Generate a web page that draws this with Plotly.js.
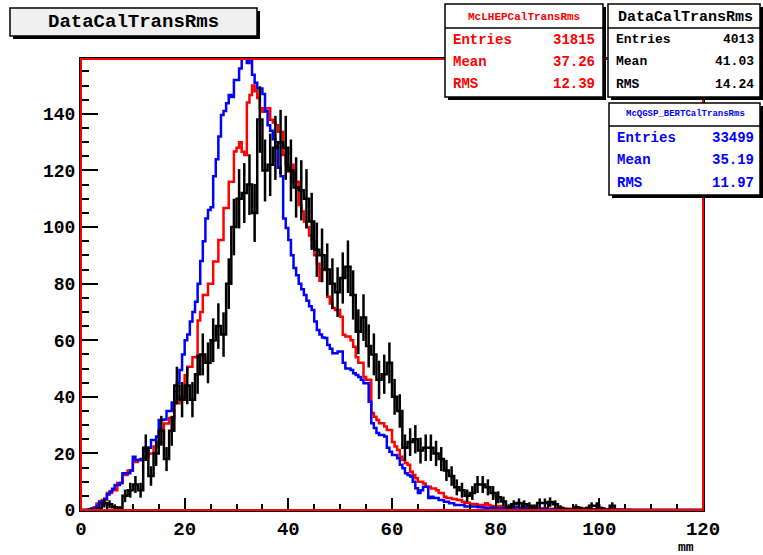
<!DOCTYPE html>
<html><head><meta charset="utf-8">
<script src="https://cdn.plot.ly/plotly-3.0.1.min.js"></script>
<style>body{margin:0;background:#fff}#c{width:763px;height:555px}</style></head>
<body><div id="c"></div><script>
// McQGSP_BERT (blue), 0.5 mm bins from 0 to 120
const blueVals=[0,0,0,0.3,0.5,0.6,1.5,3,3,4,5.5,6.5,7.5,8.8,8.8,9.5,13,13,13,14,
18.8,17.7,17.7,18,21,21,22,24.7,24.7,26,31.8,31.8,32,35,35,38,42,45,49.5,55,
60,62,66.6,70,73.6,80,88,95,103,106,107,118,124,132,139.6,141,143.8,146.7,146,152,
152,156,163,164,158,163,153.8,151,149,149,147,141,136,134,131,128,121,118,103,99.7,
95.4,90,85.5,83,80,78,76,74,72,70.7,66.6,63.6,62,61,60.8,58.3,57,55.4,55.4,56,
56,52,50,50,49.5,48.3,47.7,47,46,44.8,44.8,38.3,30.7,29,27.2,26.5,26.5,26,22,20.6,
19.4,19.4,18.3,16,14.8,13,12.4,11.8,10,7.7,6,7,8.2,8.2,4.2,4.7,4.2,4.2,3.5,3.5,
2.9,2.9,2.4,2.4,1.8,1.8,1.8,1.8,1.2,1.2,1.2,1.2,1.2,1,1,0.9,0.8,0.8,0.8,0.7,
0.7,0.6,0.6,0.6,0.6,0.8,0.9,1,0.9,0.6,0.5,0.5,0.4,0.4,0.4,0.4,0.4,0.4,0.4,0.4,
0.3,0.3,0.3,0.3,0.3,0.3,0.3,0.3,0.3,0.3,0.2,0.2,0.2,0.2,0.2,0.2,0.2,0.2,0.2,0.2,
0.1,0.1,0.1,0.1,0.1,0.1,0.1,0.1,0.1,0.1,0,0,0,0,0,0,0,0,0,0,
0,0,0,0,0,0,0,0,0,0,0,0,0,0,0,0,0,0,0,0];
// McLHEP (red), 0.5 mm bins
const redVals=[0,0,0,0.2,0.5,1,2.3,2.3,3.5,3.5,6,6,7,7,9.5,9.5,12.4,12.4,14,14,
17,17,17.7,17.7,18.8,18.8,20,20,22.4,22.4,24,24,30.6,30.6,32.5,32.5,37.7,37.7,40,40,
47.6,50.6,50.6,54,54,67,70,76,76,80,80,87.8,87.8,95.4,95.4,106.7,106.7,116,116,126.7,
128,130,126.6,125.5,144,146.7,150,148,145.6,142,140.8,142,142,137.9,137,136,133.7,133.7,125.5,122,
119.6,122,116,116,107.8,105.5,102,100,97,95.4,90,87,81,85,84.8,75.4,73,71.4,70.7,70.7,
68.3,61.9,61.3,61.3,60,57.7,54,52,52,47,46,46,34.3,33,31.8,30.7,30.7,29.5,28.3,28.3,
24,22.4,21.2,18.8,17.7,16.6,16,13.5,12.4,11.2,10,10,9.4,8.2,8.2,7.6,7.6,7,6,6,
4.7,4.2,4.2,3.9,3.9,3.5,3.5,2.9,2.6,2.6,2.1,2.1,2.1,1.8,1.8,1.8,2.4,1.8,1.4,1.4,
1.4,1.4,1.2,1.1,1,1,1,1,0.9,0.9,0.8,0.7,0.7,0.6,0.6,0.6,0.5,0.5,0.5,0.5,
0.4,0.4,0.4,0.4,0.4,0.4,0.4,0.4,0.4,0.4,0.3,0.3,0.3,0.3,0.3,0.3,0.3,0.3,0.3,0.3,
0.2,0.2,0.2,0.2,0.2,0.2,0.2,0.2,0.1,0.1,0.1,0.1,0,0,0,0,0,0,0,0,
0,0,0,0,0,0,0,0,0,0,0,0,0,0,0,0,0,0,0,0];
// Data (black), 1 mm bins
const dataVals=[0,0,0,0.5,2.4,2,1,0.6,5,7,9,7,22,12,20,28,18,28,44,39,
44,39,48,55,52,60,65,62,80,100,110,112,115,105,138,120,122,128,130,128,
120,114,113,110,102,92,90,85,80,77,82,86,76,63,68,58,55,46,48,52,
40,35,22,24,25,21,22,22,20,18,14,12,8,7,5,6,9,9,8,6,
4.5,3,1,2,2.5,2,1.5,1,2.5,2.5,2.8,2,0.8,0.3,0,1,0.5,0.5,1.5,1.5,
0.5,0,1.5,0,0,0,0,0,0,0,0,0,0,0,0,0,0,0,0,0];
const mcBinWidth=0.5, dataBinWidth=1;
const xTicks=[0,20,40,60,80,100,120];
const yTicks=[0,20,40,60,80,100,120,140];

function stepTrace(vals,w,color){
  const x=[],y=[];
  for(let i=0;i<vals.length;i++){x.push(i*w);y.push(vals[i]);}
  x.push(vals.length*w);y.push(vals[vals.length-1]);
  return {type:'scatter',mode:'lines',x:x,y:y,line:{shape:'hv',color:color,width:2.5},hoverinfo:'skip',showlegend:false};
}
const dx=[],dy=[],de=[];
for(let i=0;i<dataVals.length;i++){dx.push((i+0.5)*dataBinWidth);dy.push(dataVals[i]);de.push(Math.sqrt(dataVals[i]));}
const errTrace={type:'scatter',mode:'markers',x:dx,y:dy,marker:{size:2,color:'rgba(0,0,0,0)'},
  error_y:{type:'data',array:de,visible:true,color:'black',thickness:2.5,width:0},hoverinfo:'skip',showlegend:false};

const L=81,R=703,T=59,B=510;
const px=v=>(v-L)/(R-L), py=v=>(B-v)/(B-T);
const F='Liberation Mono, Courier New, monospace';
function rect(x0,y0,x1,y1,fill,lw){return {type:'rect',xref:'paper',yref:'paper',x0:px(x0),x1:px(x1),y0:py(y1),y1:py(y0),fillcolor:fill,line:{color:'black',width:lw},layer:'above'};}
function hline(x0,x1,y){return {type:'line',xref:'paper',yref:'paper',x0:px(x0),x1:px(x1),y0:py(y),y1:py(y),line:{color:'black',width:1.5},layer:'above'};}
function txt(t,x,y,size,color,anchor){return {text:t,xref:'paper',yref:'paper',x:px(x),y:py(y),xanchor:anchor||'center',yanchor:'middle',showarrow:false,font:{family:F,size:size,color:color,weight:'bold'}};}

const shapes=[
  {type:'rect',xref:'paper',yref:'paper',x0:0,x1:1,y0:0,y1:1,line:{color:'red',width:2},layer:'above'},
  rect(13,11,260,39,'black',0), rect(10,8,257,36,'#f0f0f0',1.5),
  rect(448,7,606,100,'black',0), rect(445,4,603,97,'white',1.5), hline(445,603,28),
  rect(611,7,766,100,'black',0), rect(608,4,760,97,'white',1.5), hline(608,760,28),
  rect(612,106,766,198,'black',0), rect(609,103,760,195,'white',1.5), hline(609,760,126)
];
const annotations=[
  txt('DataCalTransRms',133,22,19,'black'),
  txt('McLHEPCalTransRms',524,17,11,'red'),
  txt('Entries',451,40,14,'red','left'),txt('31815',597,40,14,'red','right'),
  txt('Mean',451,62,14,'red','left'),txt('37.26',597,62,14,'red','right'),
  txt('RMS',451,84,14,'red','left'),txt('12.39',597,84,14,'red','right'),
  txt('DataCalTransRms',685,17,15,'black'),
  txt('Entries',614,40,13,'black','left'),txt('4013',756,40,13,'black','right'),
  txt('Mean',614,62,13,'black','left'),txt('41.03',756,62,13,'black','right'),
  txt('RMS',614,84,13,'black','left'),txt('14.24',756,84,13,'black','right'),
  txt('McQGSP_BERTCalTransRms',685,114,9,'blue'),
  txt('Entries',615,138,14,'blue','left'),txt('33499',756,138,14,'blue','right'),
  txt('Mean',615,160,14,'blue','left'),txt('35.19',756,160,14,'blue','right'),
  txt('RMS',615,183,14,'blue','left'),txt('11.97',756,183,14,'blue','right'),
  txt('mm',686,547,13,'black')
];
const layout={
  width:763,height:555,margin:{l:L,r:763-R,t:T,b:555-B},
  paper_bgcolor:'white',plot_bgcolor:'white',showlegend:false,
  xaxis:{range:[0,120],showline:true,linecolor:'black',linewidth:2,mirror:true,showgrid:false,zeroline:false,
    ticks:'inside',ticklen:12,tickwidth:2,tickcolor:'black',tickvals:xTicks,ticktext:xTicks.map(String),
    minor:{ticks:'inside',ticklen:6,tickwidth:2,tickcolor:'black',dtick:5,tick0:0},
    tickfont:{family:F,size:19,color:'black',weight:'bold'}},
  yaxis:{range:[0,159.4],showline:true,linecolor:'black',linewidth:2,mirror:true,showgrid:false,zeroline:false,
    ticks:'inside',ticklen:17,tickwidth:2,tickcolor:'black',tickvals:yTicks,ticktext:yTicks.map(String),
    minor:{ticks:'inside',ticklen:8,tickwidth:2,tickcolor:'black',dtick:5,tick0:0},
    tickfont:{family:F,size:18,color:'black',weight:'bold'}},
  shapes:shapes,annotations:annotations
};
Plotly.newPlot('c',[stepTrace(redVals,mcBinWidth,'red'),stepTrace(blueVals,mcBinWidth,'blue'),stepTrace(dataVals,dataBinWidth,'black'),errTrace],layout,{staticPlot:true,displayModeBar:false});
</script></body></html>
